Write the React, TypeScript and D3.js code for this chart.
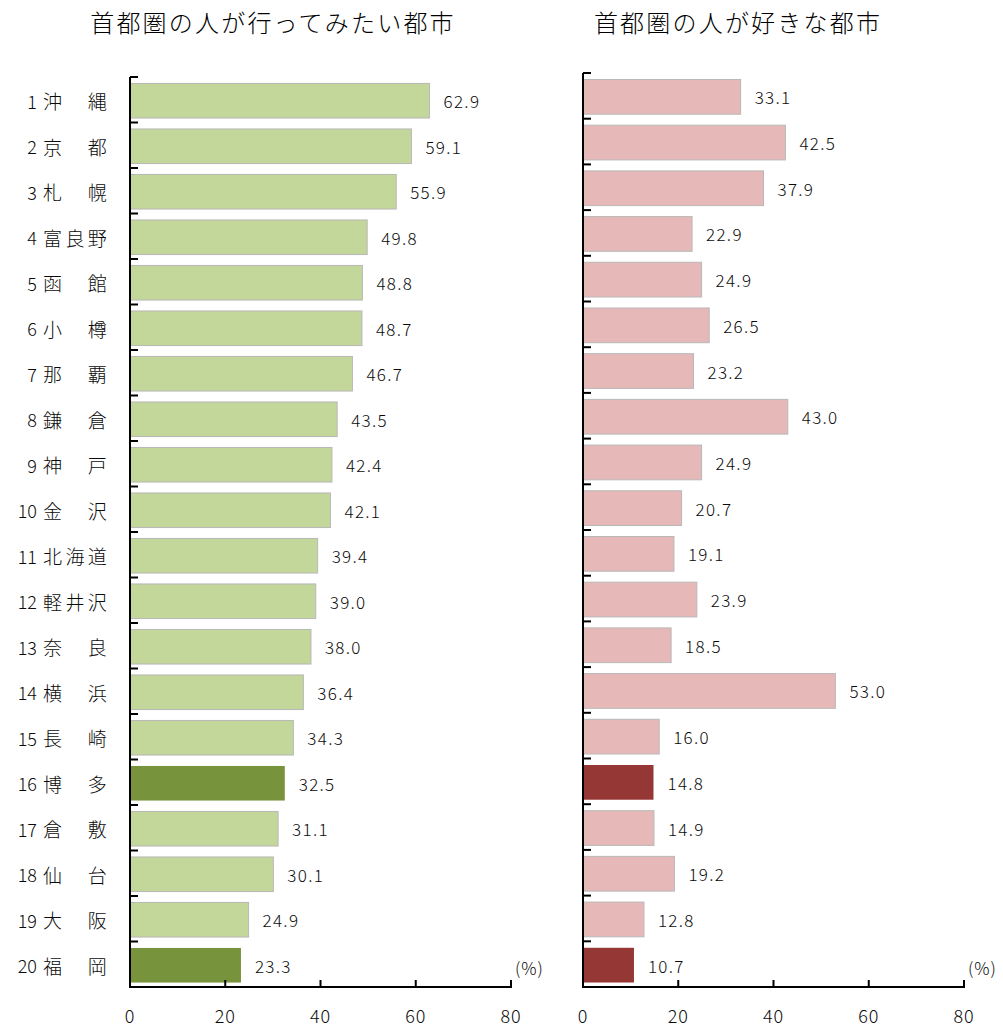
import React from "react";
import * as d3 from "d3";

const ranks = ["1","2","3","4","5","6","7","8","9","10","11","12","13","14","15","16","17","18","19","20"];
const cities = ["沖　縄","京　都","札　幌","富良野","函　館","小　樽","那　覇","鎌　倉","神　戸","金　沢","北海道","軽井沢","奈　良","横　浜","長　崎","博　多","倉　敷","仙　台","大　阪","福　岡"];
const wantToVisit = [62.9,59.1,55.9,49.8,48.8,48.7,46.7,43.5,42.4,42.1,39.4,39.0,38.0,36.4,34.3,32.5,31.1,30.1,24.9,23.3];
const favorite = [33.1,42.5,37.9,22.9,24.9,26.5,23.2,43.0,24.9,20.7,19.1,23.9,18.5,53.0,16.0,14.8,14.9,19.2,12.8,10.7];
const highlighted = ["博　多","福　岡"];
const xTicks = [0,20,40,60,80];
const titles = ["首都圏の人が行ってみたい都市","首都圏の人が好きな都市"];

const FONT = "'Noto Sans CJK JP', 'Noto Sans', sans-serif";
const W = 300;
const INK = "#0a0a0a";

type PanelProps = {
  values: number[];
  x0: number;
  x1: number;
  yTop: number;
  yBottom: number;
  light: string;
  dark: string;
  showLabels: boolean;
  title: string;
  titleX: number;
};

function Panel({ values, x0, x1, yTop, yBottom, light, dark, showLabels, title, titleX }: PanelProps) {
  const x = d3.scaleLinear().domain([0, 80]).range([x0, x1]);
  const y = d3.scaleBand<string>().domain(cities).range([yTop, yBottom]).paddingInner(0.24).paddingOuter(0.12);
  const step = y.step();
  const bounds = d3.range(cities.length + 1).map((i) => yTop + i * step);
  return (
    <g>
      <text x={titleX} y={32} textAnchor="middle" fontFamily={FONT} fontWeight={W} fontSize={24} letterSpacing={2.2} fill="#000">{title}</text>
      {values.map((v, i) => {
        const c = cities[i];
        const isHi = highlighted.includes(c);
        return (
          <g key={c}>
            <rect x={x(0)} y={(y(c) as number) + 1} width={x(v) - x(0)} height={y.bandwidth()} fill={isHi ? dark : light} stroke={isHi ? "none" : "#b8b8b8"} strokeWidth={1} />
            <text x={x(v) + 14} y={(y(c) as number) + 1 + y.bandwidth() / 2} dominantBaseline="central" fontFamily={FONT} fontWeight={W} fontSize={17} letterSpacing={1.3} fill={INK}>{v.toFixed(1)}</text>
          </g>
        );
      })}
      {showLabels && cities.map((c, i) => (
        <g key={"l" + c}>
          <text x={37} y={(y(c) as number) + 1 + y.bandwidth() / 2} dominantBaseline="central" textAnchor="end" fontFamily={FONT} fontWeight={W} fontSize={18} fill={INK}>{ranks[i]}</text>
          <text x={43} y={(y(c) as number) + 1 + y.bandwidth() / 2} dominantBaseline="central" fontFamily={FONT} fontWeight={W} fontSize={19} letterSpacing={3.4} fill={INK}>{c}</text>
        </g>
      ))}
      {bounds.slice(0, -1).map((b, i) => (
        <line key={"ct" + i} x1={x0} x2={x0 + 8} y1={b} y2={b} stroke="#000" strokeWidth={2} />
      ))}
      {xTicks.map((t) => (
        <g key={"xt" + t}>
          {t > 0 && <line x1={x(t)} x2={x(t)} y1={yBottom} y2={yBottom - 7} stroke="#000" strokeWidth={2} />}
          <text x={x(t)} y={1015} textAnchor="middle" dominantBaseline="central" fontFamily={FONT} fontWeight={W} fontSize={18} letterSpacing={0.8} fill={INK}>{t}</text>
        </g>
      ))}
      <line x1={x0} x2={x0} y1={yTop} y2={yBottom} stroke="#000" strokeWidth={2} />
      <line x1={x0 - 1} x2={x1 + 1} y1={yBottom} y2={yBottom} stroke="#000" strokeWidth={2} />
      <text x={x1 + 4} y={967} dominantBaseline="central" fontFamily={FONT} fontWeight={W} fontSize={17} letterSpacing={1} fill={INK}>(%)</text>
    </g>
  );
}

export default function App() {
  return (
    <svg width={1003} height={1028} style={{ position: "absolute", left: 0, top: 0, background: "#fff" }}>
      <rect width={1003} height={1028} fill="#fff" />
      <Panel values={wantToVisit} x0={130} x1={511} yTop={77} yBottom={987} light="#c4d79b" dark="#77933c" showLabels={true} title={titles[0]} titleX={273} />
      <Panel values={favorite} x0={583} x1={964} yTop={73} yBottom={987} light="#e6b9b8" dark="#953735" showLabels={false} title={titles[1]} titleX={738} />
    </svg>
  );
}
